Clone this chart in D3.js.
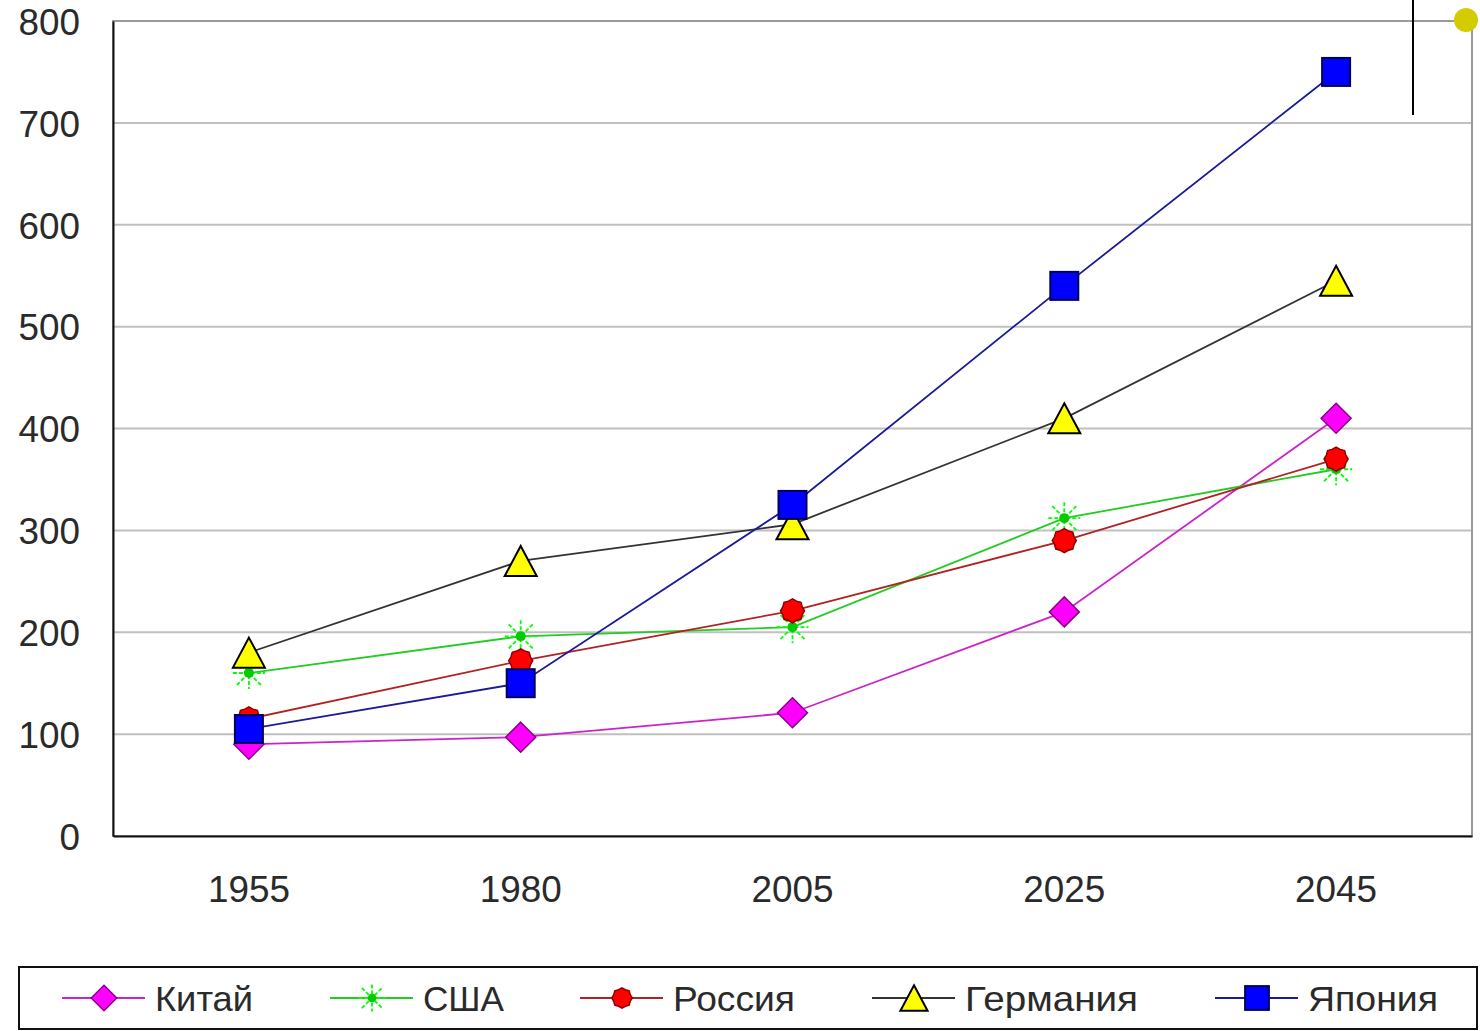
<!DOCTYPE html>
<html>
<head>
<meta charset="utf-8">
<script src="https://cdn.jsdelivr.net/npm/d3@7"></script>
<style>
  html, body { margin: 0; padding: 0; background: #fff; }
  svg { display: block; }
  .tick-label { font-family: "Liberation Sans", Arial, sans-serif; fill: #2a2a2a; }
</style>
</head>
<body>
<div id="chart"></div>
<script>
// Data
var years = ['1955', '1980', '2005', '2025', '2045'];
var seriesNames = ['Китай', 'США', 'Россия', 'Германия', 'Япония'];
var china   = [90, 97, 121, 220, 410];
var usa     = [160, 196, 205, 312, 360];
var russia  = [115, 172, 221, 290, 370];
var germany = [180, 270, 306, 410, 545];
var japan   = [105, 150, 325, 540, 750];
var yTicks  = [0, 100, 200, 300, 400, 500, 600, 700, 800];

var values = [china, usa, russia, germany, japan];

var styles = [
  { line: '#cc22cc', fill: '#ff00ff', stroke: '#8a008a', marker: 'diamond' },
  { line: '#22cc22', fill: '#00ff00', stroke: '#00cc00', marker: 'star' },
  { line: '#b22222', fill: '#ff0000', stroke: '#8b0000', marker: 'circle' },
  { line: '#333333', fill: '#ffff00', stroke: '#000000', marker: 'triangle' },
  { line: '#1a1a9a', fill: '#0000ff', stroke: '#00005a', marker: 'square' }
];

var W = 1480, H = 1031,
    plot = { left: 113, right: 1472, top: 21, bottom: 836 };

var svg = d3.select('#chart').append('svg')
  .attr('width', W)
  .attr('height', H);

var x = d3.scaleBand().domain(years).range([plot.left, plot.right]).padding(0);
var y = d3.scaleLinear().domain([0, 800]).range([plot.bottom, plot.top]);

// Grid lines
svg.append('g')
  .selectAll('line')
  .data(yTicks.slice(1))
  .enter().append('line')
    .attr('x1', plot.left).attr('x2', plot.right)
    .attr('y1', function(d) { return y(d); })
    .attr('y2', function(d) { return y(d); })
    .attr('stroke', '#c0c0c0')
    .attr('stroke-width', 2);

// Plot frame
svg.append('rect')
  .attr('x', plot.left).attr('y', plot.top)
  .attr('width', plot.right - plot.left)
  .attr('height', plot.bottom - plot.top)
  .attr('fill', 'none')
  .attr('stroke', '#9a9a9a')
  .attr('stroke-width', 2);

// Y axis
var yAxis = svg.append('g')
  .attr('transform', 'translate(' + plot.left + ',0)')
  .call(d3.axisLeft(y).tickValues(yTicks).tickSize(0).tickPadding(33));
yAxis.select('.domain').attr('stroke', '#111').attr('stroke-width', 2);
yAxis.selectAll('.tick text')
  .attr('class', 'tick-label')
  .style('font-size', '37px')
  .attr('dy', '0.36em')
  .attr('textLength', function(d) { return String(d).length * 20.5; })
  .attr('lengthAdjust', 'spacingAndGlyphs');

// X axis
var xAxis = svg.append('g')
  .attr('transform', 'translate(0,' + plot.bottom + ')')
  .call(d3.axisBottom(x).tickSize(0).tickPadding(40));
xAxis.select('.domain').attr('stroke', '#111').attr('stroke-width', 2);
xAxis.selectAll('.tick text')
  .attr('class', 'tick-label')
  .style('font-size', '37px')
  .attr('textLength', 82)
  .attr('lengthAdjust', 'spacingAndGlyphs');

function drawMarker(g, type, st, cx, cy, scale) {
  scale = scale || 1;
  if (type === 'diamond') {
    var r = 15 * scale;
    g.append('path')
      .attr('d', 'M' + cx + ',' + (cy - r) + 'L' + (cx + r) + ',' + cy + 'L' + cx + ',' + (cy + r) + 'L' + (cx - r) + ',' + cy + 'Z')
      .attr('fill', st.fill).attr('stroke', st.stroke).attr('stroke-width', 1.5);
  } else if (type === 'star') {
    var s = 16 * scale, sd = 12 * scale;
    var segs = [[0, -s, 0, s], [-s, 0, s, 0], [-sd, -sd, sd, sd], [-sd, sd, sd, -sd]];
    segs.forEach(function(p) {
      g.append('line')
        .attr('x1', cx + p[0]).attr('y1', cy + p[1])
        .attr('x2', cx + p[2]).attr('y2', cy + p[3])
        .attr('stroke', st.fill).attr('stroke-width', 1.8)
        .attr('stroke-dasharray', '4,2');
    });
    g.append('circle').attr('cx', cx).attr('cy', cy).attr('r', 5 * scale).attr('fill', st.stroke);
  } else if (type === 'circle') {
    // slightly jagged disc
    var pts = [], n = 16, ro = 12 * scale, ri = 10.5 * scale;
    for (var k = 0; k < n; k++) {
      var a = k * Math.PI / (n / 2), rr = k % 2 ? ri : ro;
      pts.push([cx + rr * Math.sin(a), cy - rr * Math.cos(a)]);
    }
    g.append('path')
      .attr('d', 'M' + pts.join('L') + 'Z')
      .attr('fill', st.fill).attr('stroke', st.stroke).attr('stroke-width', 1.5);
  } else if (type === 'triangle') {
    var hw = 16 * scale, hh = 15 * scale;
    g.append('path')
      .attr('d', 'M' + cx + ',' + (cy - hh) + 'L' + (cx + hw) + ',' + (cy + hh) + 'L' + (cx - hw) + ',' + (cy + hh) + 'Z')
      .attr('fill', st.fill).attr('stroke', st.stroke).attr('stroke-width', 2);
  } else if (type === 'square') {
    var h = 14 * scale;
    g.append('rect')
      .attr('x', cx - h).attr('y', cy - h)
      .attr('width', 2 * h).attr('height', 2 * h)
      .attr('fill', st.fill).attr('stroke', st.stroke).attr('stroke-width', 2);
  }
}

var line = d3.line()
  .x(function(d, i) { return x(years[i]) + x.bandwidth() / 2; })
  .y(function(d) { return y(d); });

values.forEach(function(vals, si) {
  var st = styles[si];
  var g = svg.append('g').attr('class', 'series');
  g.append('path')
    .datum(vals)
    .attr('d', line)
    .attr('fill', 'none')
    .attr('stroke', st.line)
    .attr('stroke-width', 1.8);
  vals.forEach(function(v, i) {
    drawMarker(g, st.marker, st, x(years[i]) + x.bandwidth() / 2, y(v));
  });
});

// Legend
var legend = svg.append('g');
legend.append('rect')
  .attr('x', 19).attr('y', 967)
  .attr('width', 1458).attr('height', 62)
  .attr('fill', '#fff').attr('stroke', '#111').attr('stroke-width', 2);

var legendX = [62, 330, 580, 872, 1215];
var legendTextW = [98, 81, 122, 173, 130];
seriesNames.forEach(function(name, i) {
  var st = styles[i], lx = legendX[i], ly = 998;
  legend.append('line')
    .attr('x1', lx).attr('x2', lx + 83)
    .attr('y1', ly).attr('y2', ly)
    .attr('stroke', st.line).attr('stroke-width', 2);
  drawMarker(legend, st.marker, st, lx + 42, ly, 0.85);
  legend.append('text')
    .attr('class', 'tick-label')
    .attr('x', lx + 93).attr('y', ly)
    .attr('dy', '0.36em')
    .style('font-size', '35px')
    .attr('textLength', legendTextW[i])
    .attr('lengthAdjust', 'spacingAndGlyphs')
    .text(name);
});

// Selection artefacts at the top right
svg.append('line')
  .attr('x1', 1413).attr('x2', 1413)
  .attr('y1', 0).attr('y2', 115)
  .attr('stroke', '#000').attr('stroke-width', 2);
svg.append('circle')
  .attr('cx', 1466).attr('cy', 20).attr('r', 12)
  .attr('fill', '#d4cc00');
</script>
</body>
</html>
